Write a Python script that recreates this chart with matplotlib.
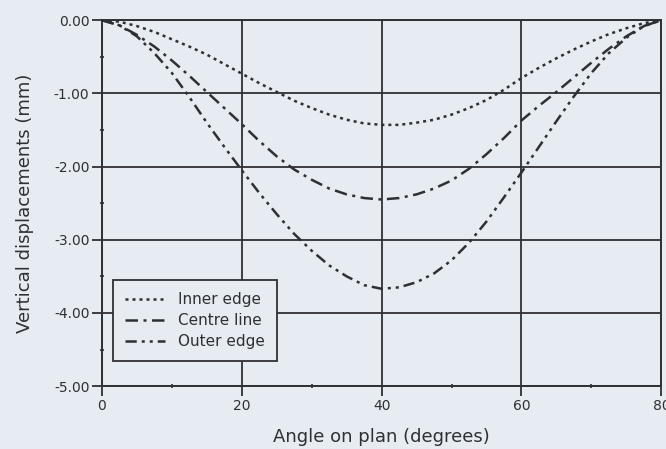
import matplotlib.pyplot as plt
from matplotlib.ticker import MultipleLocator, FormatStrFormatter

angle = [0, 2.5, 5, 7.5, 10, 12.5, 15, 17.5, 20, 22.5, 25, 27.5, 30, 32.5,
         35, 37.5, 40, 42.5, 45, 47.5, 50, 52.5, 55, 57.5, 60, 62.5, 65,
         67.5, 70, 72.5, 75, 77.5, 80]
inner_edge = [0, -0.02, -0.08, -0.16, -0.26, -0.36, -0.47, -0.60, -0.73,
              -0.86, -0.98, -1.10, -1.20, -1.29, -1.36, -1.41, -1.43, -1.43,
              -1.40, -1.36, -1.29, -1.20, -1.09, -0.95, -0.79, -0.65, -0.52,
              -0.40, -0.29, -0.19, -0.11, -0.04, 0]
centre_line = [0, -0.07, -0.20, -0.36, -0.55, -0.76, -0.98, -1.20, -1.42,
               -1.65, -1.86, -2.04, -2.18, -2.30, -2.38, -2.43, -2.45, -2.43,
               -2.38, -2.30, -2.19, -2.03, -1.83, -1.61, -1.37, -1.17, -0.98,
               -0.78, -0.58, -0.39, -0.22, -0.08, 0]
outer_edge = [0, -0.07, -0.22, -0.45, -0.72, -1.05, -1.40, -1.73, -2.05,
              -2.36, -2.65, -2.92, -3.15, -3.35, -3.50, -3.62, -3.67, -3.65,
              -3.58, -3.46, -3.28, -3.04, -2.75, -2.42, -2.08, -1.73, -1.38,
              -1.04, -0.72, -0.45, -0.24, -0.08, 0]

paper = '#e7ecf2'
ink = '#2e3033'

plt.rcParams['font.family'] = ['DejaVu Sans']

fig = plt.figure(figsize=(6.66, 4.49), dpi=100, facecolor=paper)
ax = fig.add_axes([0.153, 0.140, 0.840, 0.815], facecolor=paper)

ax.plot(angle, inner_edge, color=ink, lw=1.8, dashes=(1.2, 1.6),
        label='Inner edge')
ax.plot(angle, centre_line, color=ink, lw=1.8, dashes=(5, 2.2, 1.2, 2.2),
        label='Centre line')
ax.plot(angle, outer_edge, color=ink, lw=1.8,
        dashes=(4.5, 2, 1.2, 2, 1.2, 2), label='Outer edge')

ax.set_xlim(0, 80)
ax.set_ylim(-5, 0)
ax.xaxis.set_major_locator(MultipleLocator(20))
ax.xaxis.set_minor_locator(MultipleLocator(10))
ax.yaxis.set_major_locator(MultipleLocator(1))
ax.yaxis.set_minor_locator(MultipleLocator(0.5))
ax.yaxis.set_major_formatter(FormatStrFormatter('%.2f'))

ax.grid(True, which='major', color=ink, lw=1.3)
ax.tick_params(which='major', length=7, width=1.3, color=ink,
               labelcolor=ink, labelsize=10, pad=2)
ax.tick_params(which='minor', length=3, width=1.2, color=ink,
               direction='inout')
for s in ax.spines.values():
    s.set_color(ink)
    s.set_linewidth(1.4)

ax.set_xlabel('Angle on plan (degrees)', color=ink, fontsize=13, labelpad=11)
ax.set_ylabel('Vertical displacements (mm)', color=ink, fontsize=13,
              labelpad=14)

leg = ax.legend(loc='lower left', bbox_to_anchor=(0.02, 0.068),
                borderaxespad=0, handlelength=2.6, handletextpad=0.85,
                fontsize=11, fancybox=False, framealpha=1, facecolor=paper,
                edgecolor=ink, borderpad=0.8, labelspacing=0.38,
                labelcolor=ink)
leg.get_frame().set_linewidth(1.3)

fig.savefig('out.png', dpi=100, facecolor=paper)
